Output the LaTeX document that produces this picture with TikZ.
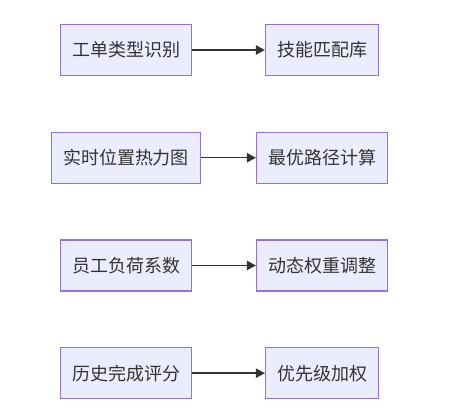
\documentclass[tikz,border=0pt]{standalone}
\usepackage{fontspec}
\newfontfamily\cjk{Noto Sans CJK SC}
\usepackage{tikz}
\usetikzlibrary{positioning}
\usetikzlibrary{shapes,arrows,arrows.meta}
\definecolor{boxfill}{HTML}{ECECFF}
\definecolor{boxline}{HTML}{9370DB}
\definecolor{edgecol}{HTML}{333333}
\tikzset{
block/.style = {draw=boxline, fill=boxfill, rectangle, line width=0.9pt, text=edgecol,
  font=\cjk\fontsize{13.5pt}{16pt}\selectfont, inner xsep=8.6pt, minimum height=38.3pt},
link/.style = {draw=edgecol, line width=1.1pt}
}
\begin{document}
\begin{tikzpicture}[auto, node distance=147pt, >={Triangle[length=6.8pt,width=7pt]}, x=0.75pt, y=0.75pt]
    \useasboundingbox (0,0) rectangle (454,-412);
    % left column, one row per factor
    \node [block] at (126,-50) (type) {工单类型识别};
    \node [block, below of=type, node distance=80.8pt] (heat) {实时位置热力图};
    \node [block, below of=heat, node distance=80.8pt] (load) {员工负荷系数};
    \node [block, below of=load, node distance=80.8pt] (hist) {历史完成评分};
    % right column
    \node [block, right of=type] (skill) {技能匹配库};
    \node [block, right of=heat] (route) {最优路径计算};
    \node [block, right of=load] (weight) {动态权重调整};
    \node [block, right of=hist] (prio) {优先级加权};

    % arrows between the columns
    \draw [link,->] (type) -- (skill);
    \draw [link,->] (heat) -- (route);
    \draw [link,->] (load) -- (weight);
    \draw [link,->] (hist) -- (prio);
\end{tikzpicture}
\end{document}
